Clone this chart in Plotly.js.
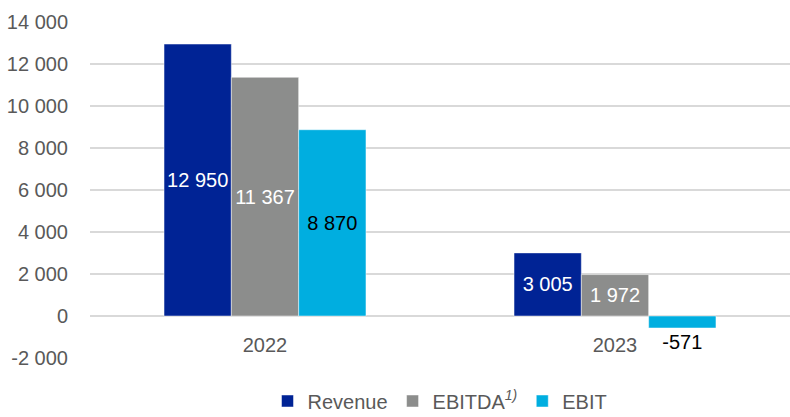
<!DOCTYPE html>
<html>
<head>
<meta charset="utf-8">
<script src="https://cdn.plot.ly/plotly-3.0.1.min.js"></script>
<style>html,body{margin:0;padding:0;background:#fff}#chart{width:790px;height:417px}</style>
</head>
<body>
<div id="chart"></div>
<script>
const years = ["2022", "2023"];
const revenue = [12950, 3005];
const ebitda = [11367, 1972];
const ebit = [8870, -571];
const seriesNames = ["Revenue", "EBITDA<sup><i>1)</i></sup>", "EBIT"];
const tickVals = [-2000, 0, 2000, 4000, 6000, 8000, 10000, 12000, 14000];
const tickLabels = ["-2 000", "0", "2 000", "4 000", "6 000", "8 000", "10 000", "12 000", "14 000"];

function fmt(v) {
  const s = Math.abs(v).toString().replace(/\B(?=(\d{3})+(?!\d))/g, " ");
  return (v < 0 ? "-" : "") + s;
}

const FONT = "'Liberation Sans', Arial, sans-serif";
const FS = 20;

function barTrace(name, vals, color, textColor, pos) {
  return {
    type: "bar",
    name: name,
    x: years,
    y: vals,
    text: vals.map(fmt),
    textposition: pos,
    textangle: 0,
    insidetextanchor: "middle",
    constraintext: "none",
    textfont: {family: FONT, size: FS, color: textColor},
    insidetextfont: {family: FONT, size: FS, color: textColor},
    outsidetextfont: {family: FONT, size: FS, color: "#000000"},
    marker: {color: color, line: {color: "rgba(255,255,255,0.6)", width: 0.8}},
    cliponaxis: false,
    hoverinfo: "none"
  };
}

const data = [
  barTrace(seriesNames[0], revenue, "#002395", "#ffffff", "inside"),
  barTrace(seriesNames[1], ebitda, "#8c8d8c", "#ffffff", "inside"),
  barTrace(seriesNames[2], ebit, "#00aee0", "#000000", "auto")
];

const layout = {
  width: 790,
  height: 417,
  margin: {l: 90, r: 0, t: 22, b: 59, autoexpand: false},
  paper_bgcolor: "#ffffff",
  plot_bgcolor: "#ffffff",
  font: {family: FONT, size: FS, color: "#595959"},
  barmode: "group",
  bargap: 0.423,
  bargroupgap: 0,
  showlegend: true,
  legend: {
    orientation: "h",
    x: 0.5, xanchor: "center",
    y: -0.128, yanchor: "middle",
    font: {family: FONT, size: FS, color: "#595959"},
    itemwidth: 30,
    tracegroupgap: 0,
    traceorder: "normal"
  },
  xaxis: {
    type: "category",
    range: [-0.5, 1.5],
    anchor: "free",
    position: 0.125,
    showgrid: false,
    showline: false,
    zeroline: false,
    ticks: "",
    ticklabelstandoff: 15,
    tickfont: {family: FONT, size: FS, color: "#595959"},
    fixedrange: true
  },
  yaxis: {
    range: [-2000, 14000],
    tickvals: tickVals,
    ticktext: tickLabels,
    showgrid: true,
    gridcolor: "#d9d9d9",
    gridwidth: 1.3,
    zeroline: true,
    zerolinecolor: "#d9d9d9",
    zerolinewidth: 1.3,
    showline: false,
    ticks: "",
    ticklabelstandoff: 21,
    tickfont: {family: FONT, size: FS, color: "#595959"},
    fixedrange: true
  }
};

Plotly.newPlot("chart", data, layout, {displayModeBar: false, staticPlot: true});
</script>
</body>
</html>
